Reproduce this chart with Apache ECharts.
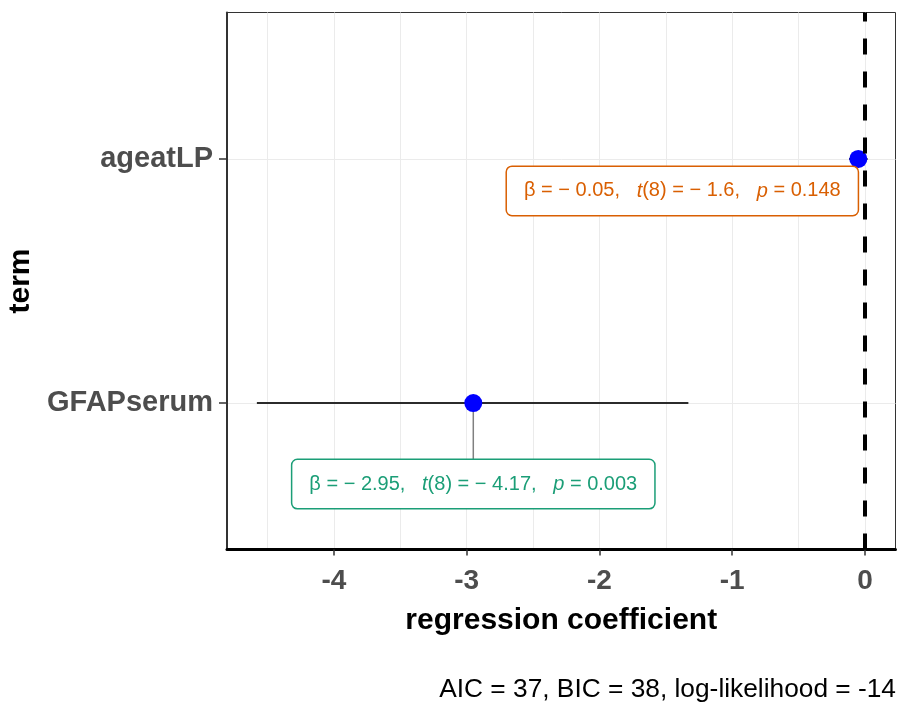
<!DOCTYPE html>
<html>
<head>
<meta charset="utf-8">
<script src="https://cdn.jsdelivr.net/npm/echarts@6/dist/echarts.min.js"></script>
<style>
  html, body { margin: 0; padding: 0; background: #ffffff; }
  #chart { width: 897px; height: 704px; }
</style>
</head>
<body>
<div id="chart"></div>
<script>
// Regression terms, listed bottom to top on the y axis
const terms = ['GFAPserum', 'ageatLP'];
const estimates = [-2.95, -0.05];
const ciLow = [-4.58, -0.12];
const ciHigh = [-1.33, 0.02];
const tValues = [-4.17, -1.6];
const dfResidual = 8;
const pValues = [0.003, 0.148];

// Axis ticks
const xTicks = [-4, -3, -2, -1, 0];
const xGridValues = [-4.5, -4, -3.5, -3, -2.5, -2, -1.5, -1, -0.5, 0];
const yTicks = [1, 2];

const captionText = 'AIC = 37, BIC = 38, log-likelihood = -14';

// Label box styling / placement (pixel offsets from each point)
const labelColors = ['#1B9E77', '#D95F02'];
const labelOffsets = [[0, 81], [-176, 32]];
const labelBoxHalf = [[185, 24], [179, 23]];

const FONT = 'Liberation Sans, Arial, sans-serif';
const MINUS = '\u2212';
const GAP = '\u00a0\u00a0\u00a0';

function fmtSigned(v, digits) {
  const s = digits == null ? String(Math.abs(v)) : Math.abs(v).toFixed(digits);
  return (v < 0 ? MINUS + ' ' : '') + s;
}

function statLabel(i) {
  return '{n|\u03b2 = ' + fmtSigned(estimates[i], 2) + ',' + GAP + '}' +
    '{i|t}{n|(' + dfResidual + ') = ' + fmtSigned(tValues[i]) + ',' + GAP + '}' +
    '{i|p}{n| = ' + pValues[i].toFixed(3) + '}';
}

const chart = echarts.init(document.getElementById('chart'), null, { renderer: 'canvas' });

const axisTextBase = { fontFamily: FONT, fontWeight: 'bold' };

const option = {
  animation: false,
  backgroundColor: '#ffffff',
  grid: {
    left: 227, right: 1.5, top: 12.5, bottom: 154.5,
    show: true, borderColor: '#333333', borderWidth: 1,
    containLabel: false, outerBoundsMode: 'none'
  },
  xAxis: [
    {
      type: 'value', min: -4.805, max: 0.23,
      axisLine: { show: true, onZero: false, lineStyle: { color: '#000000', width: 3 } },
      axisTick: { show: true, customValues: xTicks, length: 6, lineStyle: { color: '#333333', width: 1.5 } },
      axisLabel: Object.assign({ customValues: xTicks, fontSize: 28, color: '#4D4D4D', margin: 18 }, axisTextBase),
      splitLine: { show: false },
      name: 'regression coefficient', nameLocation: 'middle', nameGap: 56,
      nameTextStyle: Object.assign({ fontSize: 30, color: '#000000' }, axisTextBase)
    },
    {
      // background grid at every half unit
      type: 'value', min: -4.805, max: 0.23, position: 'bottom',
      axisLine: { show: false },
      axisTick: { show: false, customValues: xGridValues },
      axisLabel: { show: false, customValues: xGridValues },
      splitLine: { show: true, lineStyle: { color: '#EBEBEB', width: 1 } }
    }
  ],
  yAxis: {
    type: 'value', min: 0.4, max: 2.6,
    axisLine: { show: true, onZero: false, lineStyle: { color: '#333333', width: 2 } },
    axisTick: { show: true, customValues: yTicks, length: 8, lineStyle: { color: '#333333', width: 1.5 } },
    axisLabel: Object.assign({
      customValues: yTicks, fontSize: 29, color: '#4D4D4D', margin: 14,
      formatter: function (v) { return terms[Math.round(v) - 1]; }
    }, axisTextBase),
    splitLine: { show: true, lineStyle: { color: '#EBEBEB', width: 1 } },
    name: 'term', nameLocation: 'middle', nameRotate: 90, nameGap: 188,
    nameTextStyle: Object.assign({ fontSize: 30, color: '#000000' }, axisTextBase)
  },
  graphic: [
    {
      type: 'text', right: 1, top: 677,
      style: { text: captionText, fontSize: 26.3, fontFamily: FONT, fill: '#000000' }
    }
  ],
  series: [
    {
      // confidence intervals + reference line at zero
      type: 'custom',
      z: 1,
      data: terms.map(function (t, i) { return [ciLow[i], ciHigh[i], i + 1]; }),
      encode: { x: [0, 1], y: 2 },
      renderItem: function (params, api) {
        const a = api.coord([api.value(0), api.value(2)]);
        const b = api.coord([api.value(1), api.value(2)]);
        return {
          type: 'line',
          shape: { x1: a[0], y1: a[1], x2: b[0], y2: b[1] },
          style: { stroke: '#2b2b2b', lineWidth: 2 }
        };
      },
      markLine: {
        silent: true,
        symbol: ['none', 'none'],
        label: { show: false },
        lineStyle: { color: '#000000', width: 4, type: [16, 17] },
        data: [{ xAxis: 0 }]
      }
    },
    {
      // segments joining each point to its label box
      type: 'custom',
      z: 2,
      data: terms.map(function (t, i) { return [estimates[i], i + 1, i]; }),
      encode: { x: 0, y: 1 },
      renderItem: function (params, api) {
        const i = api.value(2);
        const p = api.coord([api.value(0), api.value(1)]);
        const cx = p[0] + labelOffsets[i][0];
        const cy = p[1] + labelOffsets[i][1];
        const hw = labelBoxHalf[i][0], hh = labelBoxHalf[i][1];
        const nx = Math.min(Math.max(p[0], cx - hw), cx + hw);
        const ny = Math.min(Math.max(p[1], cy - hh), cy + hh);
        return {
          type: 'line',
          shape: { x1: p[0], y1: p[1], x2: nx, y2: ny },
          style: { stroke: '#808080', lineWidth: 1.5 }
        };
      }
    },
    {
      type: 'scatter',
      z: 3,
      symbol: 'circle',
      symbolSize: 18,
      itemStyle: { color: '#0000FF', opacity: 1 },
      data: terms.map(function (t, i) {
        return {
          value: [estimates[i], i + 1],
          label: {
            show: true,
            position: 'inside',
            offset: labelOffsets[i],
            formatter: statLabel(i),
            color: labelColors[i],
            borderColor: labelColors[i],
            borderWidth: 1.5,
            borderRadius: 5,
            backgroundColor: '#ffffff',
            padding: [14, 17],
            fontFamily: FONT,
            fontSize: 20,
            rich: {
              n: { fontFamily: FONT, fontSize: 20, color: labelColors[i] },
              i: { fontFamily: FONT, fontSize: 20, fontStyle: 'italic', color: labelColors[i] }
            }
          }
        };
      })
    }
  ]
};

chart.setOption(option);
</script>
</body>
</html>
